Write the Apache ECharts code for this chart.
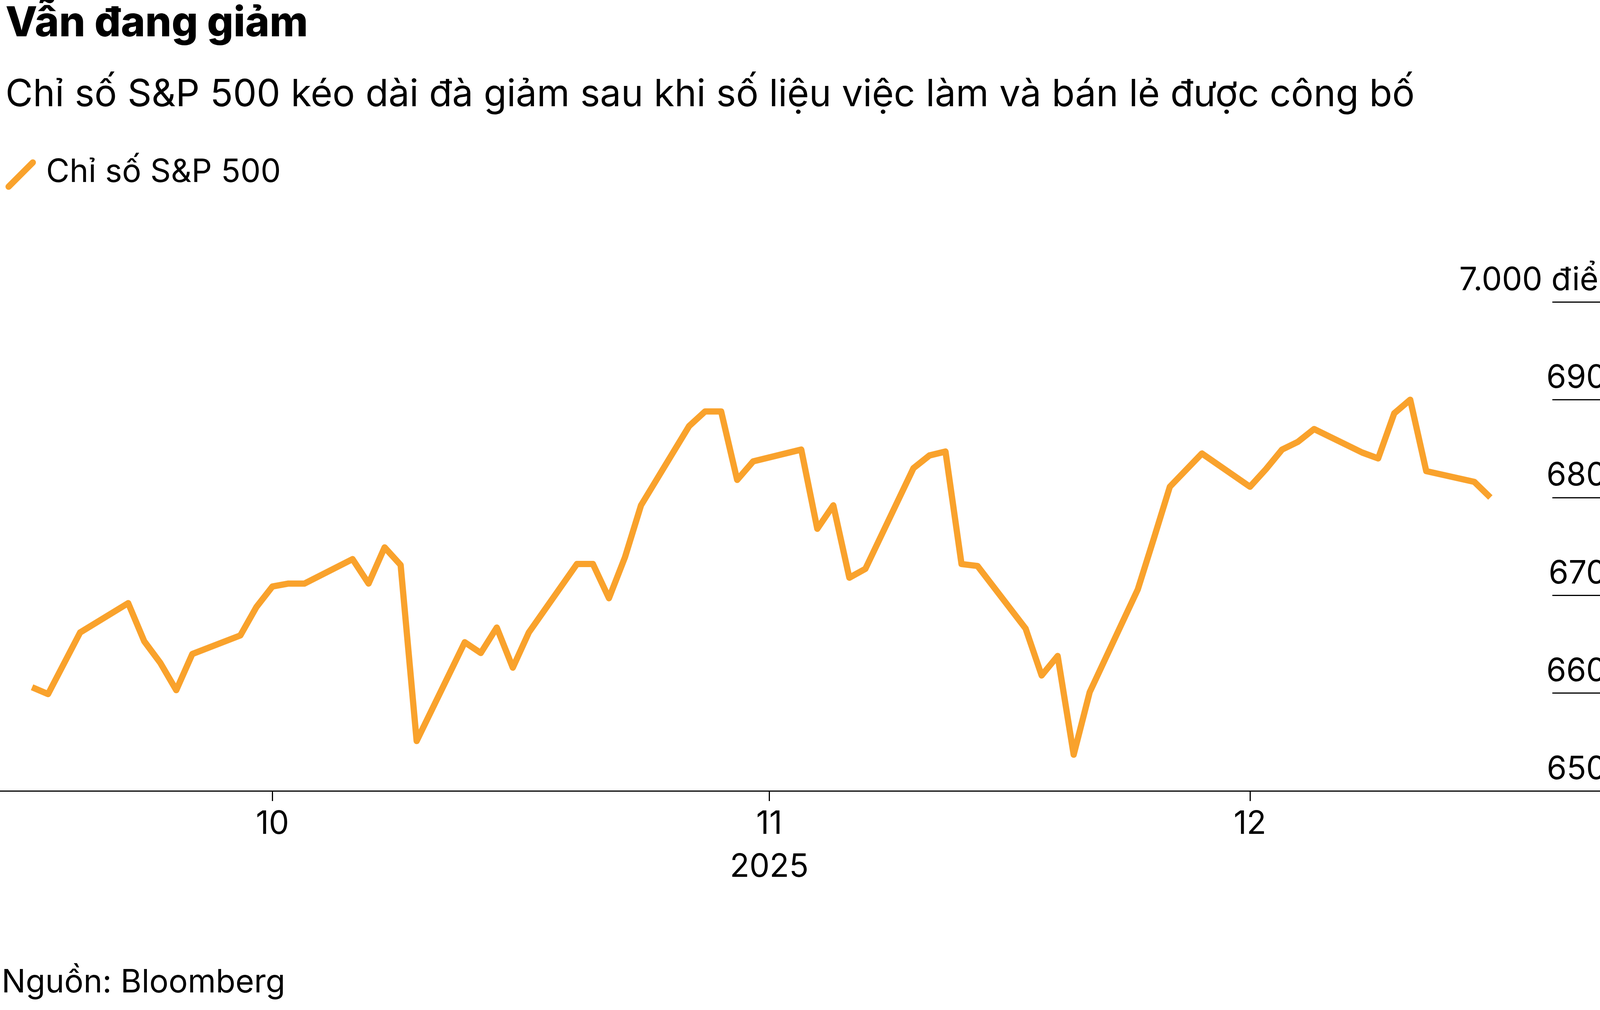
<!DOCTYPE html>
<html><head><meta charset="utf-8">
<script src="https://cdn.jsdelivr.net/npm/echarts@6/dist/echarts.min.js"></script>
<style>html,body{margin:0;background:#fff}#c{width:4167px;height:2586px}</style>
</head><body><div id="c"></div>
<script>
var dates = ['2025-09-16','2025-09-17','2025-09-19','2025-09-22','2025-09-23','2025-09-24','2025-09-25','2025-09-26',
  '2025-09-29','2025-09-30','2025-10-01','2025-10-02','2025-10-03','2025-10-06','2025-10-07','2025-10-08','2025-10-09','2025-10-10',
  '2025-10-13','2025-10-14','2025-10-15','2025-10-16','2025-10-17','2025-10-20','2025-10-21','2025-10-22','2025-10-23','2025-10-24',
  '2025-10-27','2025-10-28','2025-10-29','2025-10-30','2025-10-31','2025-11-03','2025-11-04','2025-11-05','2025-11-06','2025-11-07',
  '2025-11-10','2025-11-11','2025-11-12','2025-11-13','2025-11-14','2025-11-17','2025-11-18','2025-11-19','2025-11-20','2025-11-21',
  '2025-11-24','2025-11-25','2025-11-26','2025-11-28','2025-12-01','2025-12-02','2025-12-03','2025-12-04','2025-12-05',
  '2025-12-08','2025-12-09','2025-12-10','2025-12-11','2025-12-12','2025-12-15','2025-12-16'];
var spx = [6606,6599,6662,6692,6653,6631,6603,6640,
  6659,6688,6709,6712,6712,6737,6712,6749,6731,6551,
  6652,6641,6667,6626,6662,6732,6732,6697,6739,6792,
  6873,6888,6888,6818,6837,6849,6768,6792,6718,6727,
  6830,6843,6847,6732,6730,6666,6618,6638,6537,6601,
  6706,6758,6811,6845,6811,6829,6849,6857,6870,
  6846,6840,6886,6900,6827,6816,6800];
var monthTicks = ['2025-10-01','2025-11-01','2025-12-01'];

var orange = '#f9a22c';
function ts(d) { return +new Date(d + 'T00:00:00Z'); }
var tickTimes = monthTicks.map(ts);

var chart = echarts.init(document.getElementById('c'));
chart.setOption({
  animation: false,
  textStyle: { fontFamily: 'Inter' },
  grid: { left: 0, right: 0, top: 773, bottom: 2586 - 2025 },
  graphic: [
    { type: 'text', left: 14, top: 8, style: { text: 'Vẫn đang giảm', font: '800 106px Inter', fill: '#000' } },
    { type: 'text', left: 14, top: 195, style: { text: 'Chỉ số S&P 500 kéo dài đà giảm sau khi số liệu việc làm và bán lẻ được công bố', font: '400 96px Inter', fill: '#000' } },
    { type: 'line', shape: { x1: 22, y1: 478, x2: 84, y2: 416 }, style: { stroke: orange, lineWidth: 16, lineCap: 'round' } },
    { type: 'text', left: 118, top: 400, style: { text: 'Chỉ số S&P 500', font: '400 82px Inter', fill: '#000' } },
    { type: 'text', left: 4, top: 2475, style: { text: 'Nguồn: Bloomberg', font: '400 82px Inter', fill: '#000' } }
  ],
  xAxis: {
    type: 'value',
    min: ts('2025-09-14'),
    max: ts('2025-12-24') + 43200000,
    axisLine: { show: true, lineStyle: { color: '#000', width: 3 } },
    axisTick: { show: true, customValues: tickTimes, length: 26, lineStyle: { color: '#000', width: 3 } },
    axisLabel: {
      customValues: tickTimes, color: '#000', fontSize: 82, margin: 30, lineHeight: 110,
      formatter: function (v) {
        var m = new Date(v).getUTCMonth() + 1;
        return m === 11 ? '11\n2025' : String(m);
      }
    },
    splitLine: { show: false }
  },
  yAxis: {
    type: 'value', position: 'right', min: 6500, max: 7000, interval: 100,
    axisLine: { show: false },
    axisTick: { show: true, inside: true, length: 190, lineStyle: { color: '#000', width: 3 } },
    axisLabel: {
      inside: true, color: '#000', fontSize: 82, verticalAlign: 'bottom', align: 'right', margin: 0,
      padding: [0, 0, 14, 0],
      formatter: function (v) { return v === 7000 ? '7.000 điểm' : String(v); }
    },
    splitLine: { show: false }
  },
  series: [{
    type: 'line', name: 'Chỉ số S&P 500', showSymbol: false,
    lineStyle: { color: orange, width: 16, join: 'round' },
    data: dates.map(function (d, i) { return [ts(d), spx[i]]; })
  }]
});
</script></body></html>
